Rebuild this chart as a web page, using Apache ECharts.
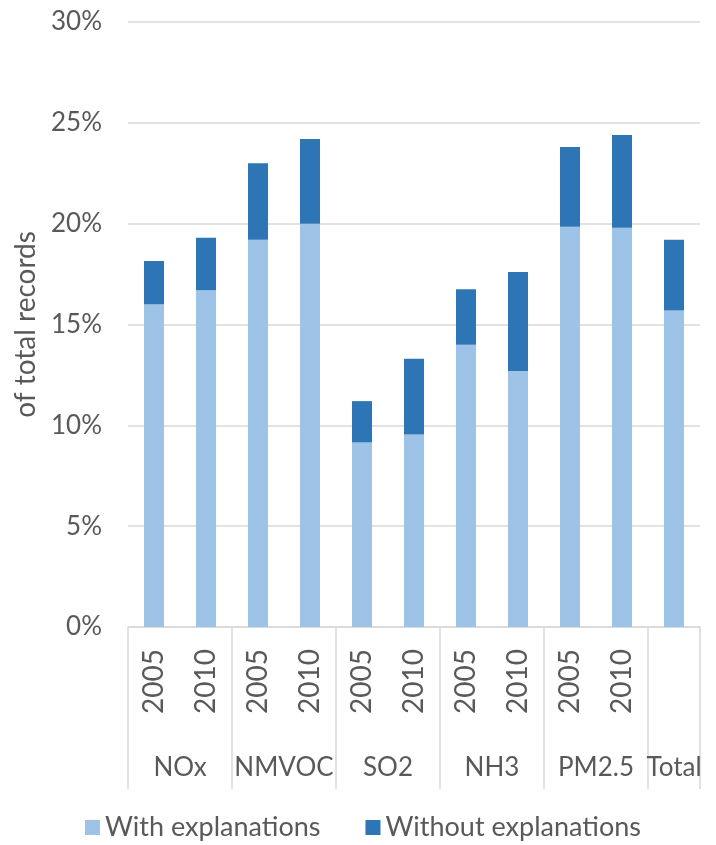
<!DOCTYPE html>
<html>
<head>
<meta charset="utf-8">
<script src="https://cdn.jsdelivr.net/npm/echarts@6/dist/echarts.min.js"></script>
<style>
  html, body { margin: 0; padding: 0; background: #fff; }
  #chart { width: 716px; height: 845px; }
</style>
</head>
<body>
<div id="chart"></div>
<script>
  // 年份（每个污染物两根柱子，Total 只有一根）
  const years = ['2005', '2010', '2005', '2010', '2005', '2010', '2005', '2010', '2005', '2010', '']
  // 分组标签，位置在组中间（按柱子序号计）
  const groups = ['NOx', 'NMVOC', 'SO2', 'NH3', 'PM2.5', 'Total']
  const groupCenters = [1, 3, 5, 7, 9, 10.5]
  const groupBounds = [0, 2, 4, 6, 8, 10, 11]
  const withExpl = [16.0, 16.7, 19.2, 20.0, 9.15, 9.55, 14.0, 12.7, 19.85, 19.8, 15.7]
  const withoutExpl = [2.15, 2.6, 3.8, 4.2, 2.05, 3.75, 2.75, 4.9, 3.95, 4.6, 3.5]
  const yTicks = [0, 5, 10, 15, 20, 25, 30]

  const textColor = '#595959'
  const lineColor = '#d9d9d9'
  const font = 'Lato'

  let chart = echarts.init(document.getElementById('chart'))
  chart.setOption({
    animation: false,
    textStyle: { fontFamily: font, color: textColor },
    grid: { left: 128, right: 16, top: 22, bottom: 218 },
    legend: {
      top: 814,
      left: 85,
      padding: 0,
      itemWidth: 15,
      itemHeight: 15,
      itemGap: 45,
      icon: 'rect',
      textStyle: { fontFamily: font, fontSize: 27, color: textColor },
      data: ['With explanations', 'Without explanations']
    },
    xAxis: [
      {
        type: 'category',
        data: years,
        axisLine: { lineStyle: { color: lineColor, width: 1.5 } },
        axisTick: { show: false },
        axisLabel: { rotate: 90, fontSize: 28, color: textColor, margin: 22, interval: 0 }
      },
      {
        type: 'value',
        min: 0,
        max: 11,
        position: 'bottom',
        splitLine: { show: false },
        axisLine: { show: false },
        axisTick: {
          show: true,
          customValues: groupBounds,
          length: 162,
          lineStyle: { color: lineColor, width: 1.5 }
        },
        axisLabel: {
          customValues: groupCenters,
          fontSize: 26,
          color: textColor,
          margin: 128,
          formatter: function (v) {
            let i = groupCenters.indexOf(v)
            return i >= 0 ? groups[i] : ''
          }
        }
      }
    ],
    yAxis: {
      type: 'value',
      min: yTicks[0],
      max: yTicks[yTicks.length - 1],
      interval: 5,
      name: 'of total records',
      nameLocation: 'middle',
      nameGap: 72,
      nameTextStyle: { fontSize: 28, color: textColor },
      axisLine: { show: false },
      axisTick: { show: false },
      axisLabel: { fontSize: 26, color: textColor, margin: 26, formatter: '{value}%' },
      splitLine: { lineStyle: { color: lineColor, width: 1.5 } }
    },
    series: [
      {
        name: 'With explanations',
        type: 'bar',
        stack: 'total',
        barWidth: 20,
        itemStyle: { color: '#9dc3e6' },
        data: withExpl
      },
      {
        name: 'Without explanations',
        type: 'bar',
        stack: 'total',
        barWidth: 20,
        itemStyle: { color: '#2e75b6' },
        data: withoutExpl
      }
    ]
  })
</script>
</body>
</html>
